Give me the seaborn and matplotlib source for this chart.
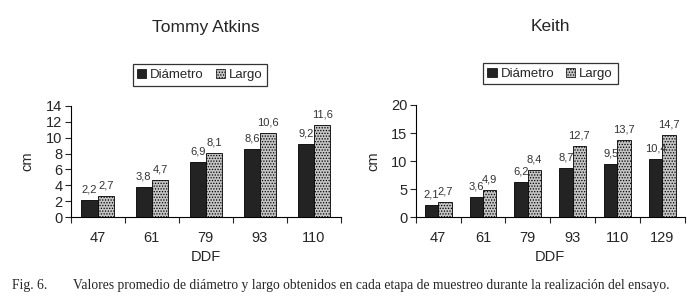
import numpy as np
import pandas as pd
import matplotlib
matplotlib.use("Agg")
import matplotlib.pyplot as plt
import seaborn as sns

# data
ta_ddf = ["47", "61", "79", "93", "110"]
ta_diametro = [2.2, 3.8, 6.9, 8.6, 9.2]
ta_largo = [2.7, 4.7, 8.1, 10.6, 11.6]

ke_ddf = ["47", "61", "79", "93", "110", "129"]
ke_diametro = [2.1, 3.6, 6.2, 8.7, 9.5, 10.4]
ke_largo = [2.7, 4.9, 8.4, 12.7, 13.7, 14.7]

series = ["Diámetro", "Largo"]

sns.set_style("white")
plt.rcParams["font.family"] = ["Liberation Sans", "DejaVu Sans"]
plt.rcParams["hatch.color"] = "#777777"
plt.rcParams["hatch.linewidth"] = 0.6

fig = plt.figure(figsize=(6.93, 3.07), dpi=100)
ax1 = fig.add_axes([0.102, 0.293, 0.390, 0.362])
ax2 = fig.add_axes([0.600, 0.293, 0.388, 0.365])


def make_df(ddf, d, l):
    return pd.DataFrame({
        "DDF": ddf * 2,
        "serie": [series[0]] * len(ddf) + [series[1]] * len(ddf),
        "cm": d + l,
    })


def draw(ax, ddf, d, l, title, ymax, ystep, legx):
    df = make_df(ddf, d, l)
    sns.barplot(data=df, x="DDF", y="cm", hue="serie", ax=ax, width=0.6,
                palette=["#232323", "#c4c4c4"], edgecolor="black",
                linewidth=0.6, errorbar=None, legend=False)
    n = len(ddf)
    for bar in ax.containers[1]:
        bar.set_hatch("......")
    for cont in ax.containers:
        labels = [f"{v.get_height():.1f}".replace(".", ",") for v in cont]
        ax.bar_label(cont, labels=labels, padding=4, fontsize=8, color="#333333")
    ax.set_xlim(-0.5, n - 0.5)
    ax.set_ylim(0, ymax)
    ax.set_yticks(np.arange(0, ymax + 0.1, ystep))
    ax.set_xticks(np.arange(-0.5, n, 1.0), minor=True)
    ax.tick_params(axis="x", which="major", length=0, pad=10, labelsize=10.5)
    ax.tick_params(axis="x", which="minor", length=4, width=0.8, direction="out", bottom=True)
    ax.tick_params(axis="y", length=4, width=0.8, direction="out", left=True, labelsize=10.5, pad=2)
    sns.despine(ax=ax)
    for s in ["left", "bottom"]:
        ax.spines[s].set_color("black")
        ax.spines[s].set_linewidth(0.8)
    ax.set_xlabel("DDF", fontsize=10.5, labelpad=4)
    ax.set_ylabel("cm", fontsize=10.5, labelpad=8)
    ax.set_title(title, fontsize=12.5, pad=53)
    handles = [plt.Rectangle((0, 0), 1, 1, facecolor="#232323", edgecolor="black", linewidth=0.5),
               plt.Rectangle((0, 0), 1, 1, facecolor="#c4c4c4", edgecolor="black", linewidth=0.5, hatch="......")]
    leg = ax.legend(handles, series, loc="center", bbox_to_anchor=(legx, 1.28), ncol=2,
                    frameon=True, fancybox=False, edgecolor="black", fontsize=9.5,
                    handlelength=0.7, handleheight=0.7, handletextpad=0.3,
                    columnspacing=0.9, borderpad=0.35)
    leg.get_frame().set_linewidth(0.9)


draw(ax1, ta_ddf, ta_diametro, ta_largo, "Tommy Atkins", 14, 2, 0.478)
draw(ax2, ke_ddf, ke_diametro, ke_largo, "Keith", 20, 5, 0.50)

fig.text(0.018, 0.058, "Fig. 6.", family="Liberation Serif", fontsize=9.8)
fig.text(0.105, 0.058, "Valores promedio de diámetro y largo obtenidos en cada etapa de muestreo durante la realización del ensayo.",
         family="Liberation Serif", fontsize=9.8)

fig.savefig("out.png", dpi=100)
